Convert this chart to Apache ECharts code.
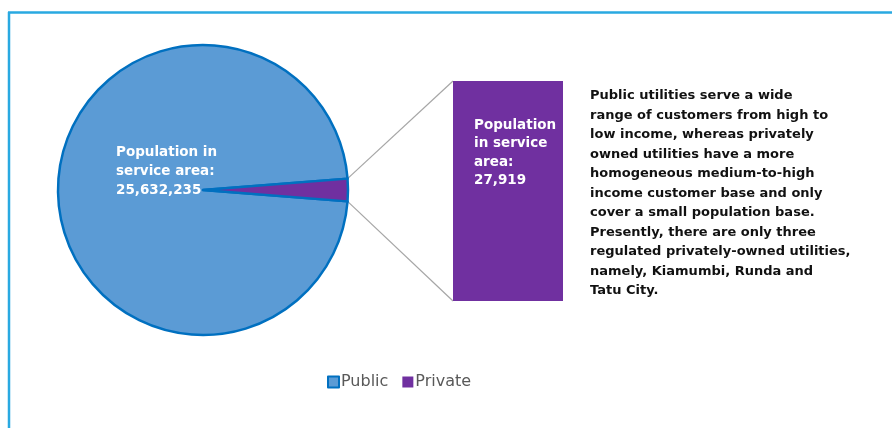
<!DOCTYPE html>
<html>
<head>
<meta charset="utf-8">
<script src="https://cdn.jsdelivr.net/npm/echarts@6/dist/echarts.min.js"></script>
<style>
  html, body { margin: 0; padding: 0; background: #ffffff; }
  #chart { width: 892px; height: 428px; }
</style>
</head>
<body>
<div id="chart"></div>
<script>
// Population served, split by utility ownership
const categories = ['Public', 'Private'];
const populations = [25632235, 27919];
// Items broken out into the secondary bar
const barCategories = ['Private'];
const barValues = [27919];
const noteLines = [
  'Public utilities serve a wide',
  'range of customers from high to',
  'low income, whereas privately',
  'owned utilities have a more',
  'homogeneous medium-to-high',
  'income customer base and only',
  'cover a small population base.',
  'Presently, there are only three',
  'regulated privately-owned utilities,',
  'namely, Kiamumbi, Runda and',
  'Tatu City.'
];

const fmt = v => v.toLocaleString('en-US');
const FONT = 'DejaVu Sans';
const PUBLIC_FILL = '#5B9BD5';
const EDGE = '#0070C0';
const PRIVATE_FILL = '#7030A0';

// pie geometry
const cx = 203, cy = 190, R = 145;
const smallAngle = 9; // minimum sweep so the tiny private share stays visible
// bar geometry
const bar = { left: 453, top: 81, width: 110, height: 220 };

const chart = echarts.init(document.getElementById('chart'), null, { renderer: 'canvas' });

// connector points on the pie rim, at both edges of the private slice
const half = smallAngle / 2 * Math.PI / 180;
const rimTop = [cx + R * Math.cos(half), cy - R * Math.sin(half)];
const rimBottom = [cx + R * Math.cos(half), cy + R * Math.sin(half)];

chart.setOption({
  animation: false,
  backgroundColor: '#ffffff',
  legend: {
    data: [
      { name: 'Public' },
      { name: 'Private', itemStyle: { borderWidth: 0 } }
    ],
    left: 322,
    top: 369,
    icon: 'rect',
    itemWidth: 11,
    itemHeight: 11,
    itemGap: 14,
    textStyle: { color: '#595959', fontSize: 16, fontFamily: 'DejaVu Sans', padding: [0, 0, 0, -3] }
  },
  grid: { left: bar.left, top: bar.top, width: bar.width, height: bar.height },
  xAxis: { type: 'category', data: barCategories, show: false },
  yAxis: { type: 'value', min: 0, max: barValues.reduce((a, b) => a + b, 0), show: false },
  series: [
    {
      type: 'pie',
      name: 'Population',
      center: [cx, cy],
      radius: R,
      startAngle: -smallAngle / 2,
      clockwise: true,
      minAngle: smallAngle,
      avoidLabelOverlap: false,
      itemStyle: { borderColor: EDGE, borderWidth: 2.5 },
      label: {
        show: true,
        position: 'inside',
        formatter: p => p.dataIndex === 0 ? 'Population in\nservice area:\n' + fmt(p.value) : '',
        color: '#ffffff',
        fontFamily: FONT,
        fontWeight: 'bold',
        fontSize: 13.5,
        lineHeight: 19,
        align: 'left'
      },
      labelLine: { show: false },
      labelLayout: p => p.dataIndex === 0
        ? { x: cx - 87, y: cy - 47, align: 'left', verticalAlign: 'top' }
        : {},
      emphasis: { disabled: true },
      data: categories.map((c, i) => ({
        name: c,
        value: populations[i],
        itemStyle: { color: i === 0 ? PUBLIC_FILL : PRIVATE_FILL }
      }))
    },
    {
      type: 'bar',
      name: 'Private detail',
      barWidth: '100%',
      itemStyle: { color: PRIVATE_FILL },
      label: {
        show: true,
        position: [21, 35],
        formatter: p => 'Population\nin service\narea:\n' + fmt(p.value),
        color: '#ffffff',
        fontFamily: FONT,
        fontWeight: 'bold',
        fontSize: 13.5,
        lineHeight: 18.5
      },
      emphasis: { disabled: true },
      data: barValues
    }
  ],
  graphic: [
    // frame
    { type: 'line', shape: { x1: 8, y1: 12.5, x2: 892, y2: 12.5 }, style: { stroke: '#29A9E1', lineWidth: 2.5 } },
    { type: 'line', shape: { x1: 9, y1: 12, x2: 9, y2: 428 }, style: { stroke: '#29A9E1', lineWidth: 2.5 } },
    // connectors from the private slice to the bar
    { type: 'line', z: -1, shape: { x1: rimTop[0], y1: rimTop[1], x2: bar.left, y2: bar.top }, style: { stroke: '#A6A6A6', lineWidth: 1.2 } },
    { type: 'line', z: -1, shape: { x1: rimBottom[0], y1: rimBottom[1], x2: bar.left, y2: bar.top + bar.height }, style: { stroke: '#A6A6A6', lineWidth: 1.2 } },
    // note
    {
      type: 'text',
      left: 590,
      top: 86,
      style: {
        text: noteLines.join('\n'),
        fill: '#111111',
        font: 'bold 13px ' + FONT,
        lineHeight: 19.5
      }
    }
  ]
});
</script>
</body>
</html>
